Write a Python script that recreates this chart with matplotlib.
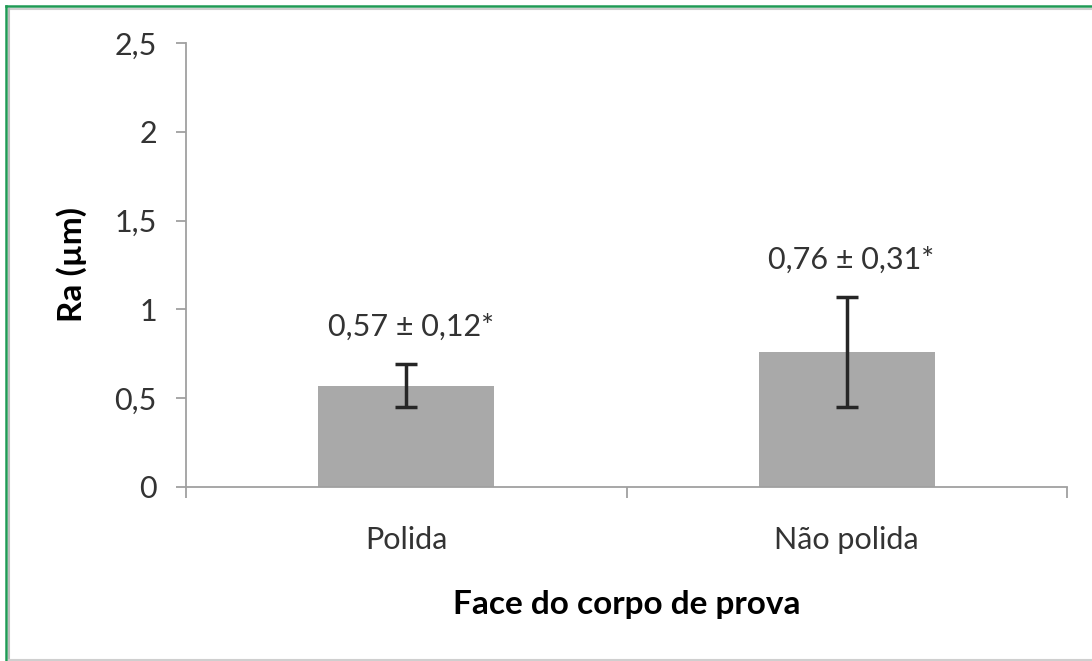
import matplotlib.pyplot as plt
from matplotlib.lines import Line2D

# surface roughness per specimen face
faces = ["Polida", "Não polida"]
ra_mean = [0.57, 0.76]
ra_sd = [0.12, 0.31]
value_labels = ["0,57 ± 0,12*", "0,76 ± 0,31*"]
y_ticks = [0, 0.5, 1, 1.5, 2, 2.5]
y_tick_labels = ["0", "0,5", "1", "1,5", "2", "2,5"]

plt.rcParams['font.family'] = ['Lato', 'DejaVu Sans']

W, H = 1092, 661
fig = plt.figure(figsize=(W / 100, H / 100), dpi=100)
ax = fig.add_axes([186 / W, 1 - 487 / H, (1067 - 186) / W, (487 - 43) / H])

x = list(range(len(faces)))
ax.bar(x, ra_mean, width=0.4, color="#a9a9a9", zorder=2)
ax.errorbar(x, ra_mean, yerr=ra_sd, fmt="none", ecolor="#262626",
            elinewidth=2.5, capsize=8, capthick=2.5, zorder=3)

for xi, m, s, lab in zip(x, ra_mean, ra_sd, value_labels):
    ax.text(xi + 0.01, m + s + 0.21, lab, ha="center", va="center",
            fontsize=22, color="#333333")

ax.set_xlim(-0.5, 1.5)
ax.set_ylim(0, 2.5)
ax.set_yticks(y_ticks)
ax.set_yticklabels(y_tick_labels)
ax.set_xticks(x)
ax.set_xticklabels(faces)
ax.set_xticks([-0.5, 0.5, 1.5], minor=True)

for side in ("top", "right"):
    ax.spines[side].set_visible(False)
for side in ("left", "bottom"):
    ax.spines[side].set_color("#a0a0a0")
    ax.spines[side].set_linewidth(1.3)

ax.tick_params(axis="y", length=7, width=1.3, color="#a0a0a0", pad=14,
               labelsize=22, labelcolor="#333333")
ax.tick_params(axis="x", which="major", length=0, pad=28,
               labelsize=22, labelcolor="#333333")
ax.tick_params(axis="x", which="minor", length=8, width=1.3, color="#a0a0a0")

ax.set_ylabel("Ra (µm)", fontsize=24, fontweight="bold", labelpad=20)
ax.set_xlabel("Face do corpo de prova", fontsize=24, fontweight="bold", labelpad=26)

# frame around the figure
def fline(x0, y0, x1, y1, color, lw):
    fig.add_artist(Line2D([x0 / W, x1 / W], [1 - y0 / H, 1 - y1 / H],
                          transform=fig.transFigure, color=color, lw=lw))

fline(6, 6, W, 6, "#1f9a55", 1.8)
fline(6, 6, 6, H, "#1f9a55", 1.8)
fline(9, 9, W, 9, "#cfcfcf", 1.5)
fline(9, 9, 9, H, "#bdbdbd", 1.5)
fline(9, 659.5, W, 659.5, "#cfcfcf", 1.5)

fig.savefig("out.png", dpi=100)
